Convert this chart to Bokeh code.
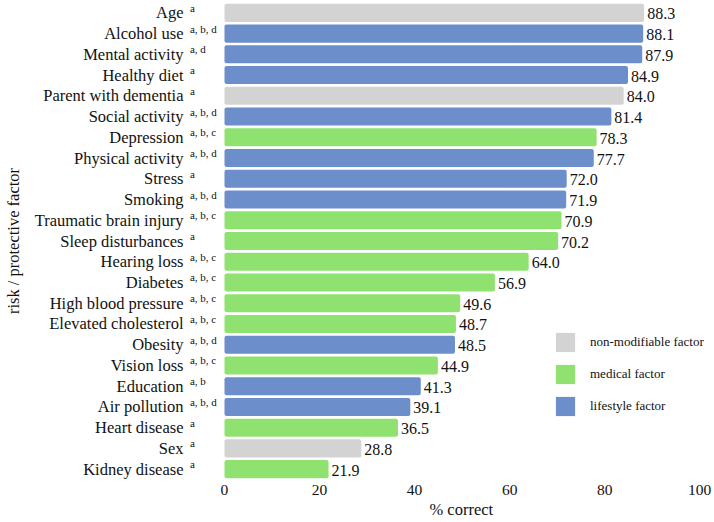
from bokeh.plotting import figure
from bokeh.models import (ColumnDataSource, Range1d, FixedTicker, Legend,
                          LegendItem, Title, CDSView, GroupFilter)
from bokeh.core.properties import value
from bokeh.embed import file_html
from bokeh.resources import INLINE

categories = ["Age", "Alcohol use", "Mental activity", "Healthy diet", "Parent with dementia",
              "Social activity", "Depression", "Physical activity", "Stress", "Smoking",
              "Traumatic brain injury", "Sleep disturbances", "Hearing loss", "Diabetes",
              "High blood pressure", "Elevated cholesterol", "Obesity", "Vision loss",
              "Education", "Air pollution", "Heart disease", "Sex", "Kidney disease"]
values = [88.3, 88.1, 87.9, 84.9, 84.0, 81.4, 78.3, 77.7, 72.0, 71.9, 70.9, 70.2, 64.0,
          56.9, 49.6, 48.7, 48.5, 44.9, 41.3, 39.1, 36.5, 28.8, 21.9]
notes = ["a", "a, b, d", "a, d", "a", "a", "a, b, d", "a, b, c", "a, b, d", "a", "a, b, d",
         "a, b, c", "a", "a, b, c", "a, b, c", "a, b, c", "a, b, c", "a, b, d", "a, b, c",
         "a, b", "a, b, d", "a", "a", "a"]
factor_type = ["non-modifiable factor", "lifestyle factor", "lifestyle factor", "lifestyle factor",
               "non-modifiable factor", "lifestyle factor", "medical factor", "lifestyle factor",
               "lifestyle factor", "lifestyle factor", "medical factor", "medical factor",
               "medical factor", "medical factor", "medical factor", "medical factor",
               "lifestyle factor", "medical factor", "lifestyle factor", "lifestyle factor",
               "medical factor", "non-modifiable factor", "medical factor"]
legend_order = ["non-modifiable factor", "medical factor", "lifestyle factor"]
x_ticks = [0, 20, 40, 60, 80, 100]
colors = {"non-modifiable factor": "#d3d3d3", "medical factor": "#90e270",
          "lifestyle factor": "#6c8fcc"}

FONT = "Liberation Serif"
TXT = "#111111"
n = len(categories)

source = ColumnDataSource(dict(
    cat=categories, val=values, note=notes, kind=factor_type,
    pos=list(range(n - 1, -1, -1)),          # first category on top
    lab=[f"{v:.1f}" for v in values], zero=[0] * n,
))

p = figure(width=714, height=522, output_backend="svg", toolbar_location=None,
           y_range=Range1d(-0.5, n - 0.5), x_range=Range1d(-42.5, 101.0),
           min_border_left=22, min_border_right=10, min_border_top=2, min_border_bottom=43)
p.outline_line_color = None
p.xgrid.visible = False
p.ygrid.visible = False
p.background_fill_color = "white"

renderers = {}
for k in legend_order:
    view = CDSView(filter=GroupFilter(column_name="kind", group=k))
    renderers[k] = p.hbar(y="pos", left=0, right="val", height=0.87, source=source, view=view,
                          fill_color=colors[k], line_color=None, border_radius=2)

# category labels
p.text(x="zero", y="pos", text="cat", source=source, x_offset=-41, text_align="right",
       text_baseline="middle", text_font=value(FONT), text_font_size="16.5px", text_color=TXT)
# superscript notes
p.text(x="zero", y="pos", text="note", source=source, x_offset=-34.5, y_offset=-5,
       text_align="left", text_baseline="middle", text_font=value(FONT),
       text_font_size="11px", text_color=TXT)
# value labels
p.text(x="val", y="pos", text="lab", source=source, x_offset=3, y_offset=1,
       text_align="left", text_baseline="middle", text_font=value(FONT),
       text_font_size="16px", text_color=TXT)

xa = p.xaxis[0]
xa.ticker = FixedTicker(ticks=x_ticks)
xa.axis_line_color = None
xa.major_tick_line_color = None
xa.minor_tick_line_color = None
xa.major_tick_out = 0
xa.major_label_standoff = 5
xa.major_label_text_font = FONT
xa.major_label_text_font_size = "15.5px"
xa.major_label_text_color = TXT

ya = p.yaxis[0]
ya.ticker = FixedTicker(ticks=[])
ya.axis_label = "risk / protective factor"
ya.axis_label_text_font = FONT
ya.axis_label_text_font_size = "16.5px"
ya.axis_label_text_font_style = "normal"
ya.axis_label_text_color = TXT
ya.axis_label_standoff = 0
ya.major_label_standoff = 0
ya.major_tick_line_color = None
ya.major_tick_out = 0
ya.minor_tick_line_color = None
ya.axis_line_color = None

# x-axis title, centred under the 0-100 part of the axis
p.add_layout(Title(text="% correct", align="left", offset=407, standoff=0,
                   text_font=FONT, text_font_size="16.5px", text_font_style="normal",
                   text_color=TXT), "below")

legend = Legend(items=[LegendItem(label=k, renderers=[renderers[k]]) for k in legend_order],
                location=(531, 61), orientation="vertical", glyph_width=24, glyph_height=24,
                spacing=8, padding=0, margin=0, label_standoff=13,
                label_text_font=FONT, label_text_font_size="13px", label_text_color=TXT,
                border_line_color=None, background_fill_alpha=0)
p.add_layout(legend)

open("out.html", "w").write(file_html(p, INLINE))
